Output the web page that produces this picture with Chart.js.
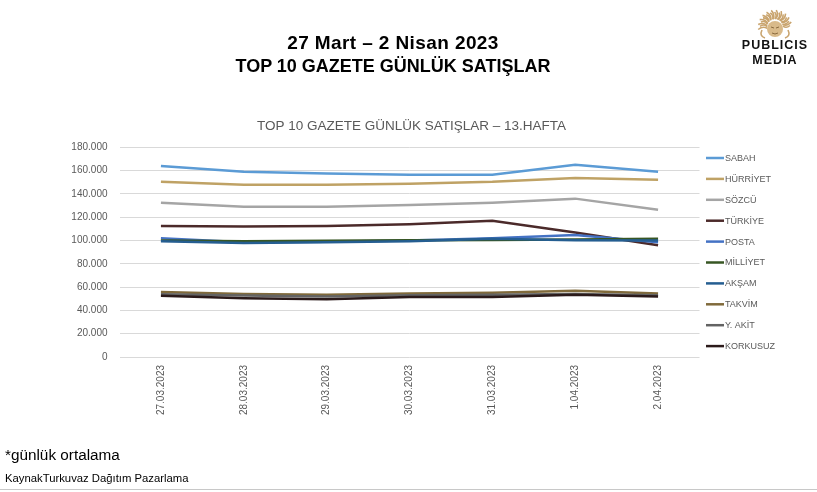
<!DOCTYPE html>
<html lang="tr">
<head>
<meta charset="UTF-8">
<title>TOP 10 GAZETE GÜNLÜK SATIŞLAR</title>
<script src="https://cdn.jsdelivr.net/npm/chart.js@4.4.0/dist/chart.umd.min.js"></script>
<style>
    html, body { margin: 0; padding: 0; background: #fff; }
    body { width: 817px; height: 492px; position: relative; overflow: hidden; font-family: "Liberation Sans", Arial, sans-serif; }
    #chart-wrap { position: absolute; left: 0; top: 0; width: 817px; height: 492px; }
    .headline { position: absolute; left: 0; width: 786px; text-align: center; font-weight: bold; font-size: 18px; color: #000; }
    .logo { position: absolute; left: 733px; top: 7px; width: 84px; text-align: center; }
    .logo svg { display: block; margin: 0 auto -3px auto; }
    .logo .word { font-weight: bold; font-size: 12.5px; letter-spacing: 1px; color: #111; line-height: 15px; }
    .note { position: absolute; left: 5px; top: 446px; font-size: 15.3px; color: #000; }
    .source { position: absolute; left: 5px; top: 472px; font-size: 11.3px; color: #000; }
    .bottom-line { position: absolute; left: 0; top: 489px; width: 817px; height: 1px; background: #c8c8c8; }
</style>
</head>
<body>
<div id="chart-wrap"><canvas id="daily-chart"></canvas></div>

<div class="headline" style="top:32px; font-size:19px; letter-spacing:0.4px;">27 Mart – 2 Nisan 2023</div>
<div class="headline" style="top:56px;">TOP 10 GAZETE GÜNLÜK SATIŞLAR</div>

<div class="logo">
    <svg width="40" height="34" viewBox="-20 -17 40 34" id="sun"></svg>
    <div class="word">PUBLICIS</div>
    <div class="word">MEDIA</div>
</div>

<div class="note">*günlük ortalama</div>
<div class="source">KaynakTurkuvaz Dağıtım Pazarlama</div>
<div class="bottom-line"></div>

<script>
// Tarihler (x ekseni)
const days = ['27.03.2023', '28.03.2023', '29.03.2023', '30.03.2023', '31.03.2023', '1.04.2023', '2.04.2023'];

// Gazeteler ve günlük satışlar
const papers = ['SABAH', 'HÜRRİYET', 'SÖZCÜ', 'TÜRKİYE', 'POSTA', 'MİLLİYET', 'AKŞAM', 'TAKVİM', 'Y. AKİT', 'KORKUSUZ'];
const sabah    = [164000, 159000, 157500, 156500, 156500, 165000, 159000];
const hurriyet = [150500, 148000, 148000, 148800, 150500, 153800, 152200];
const sozcu    = [132500, 129000, 129000, 130500, 132500, 136000, 126500];
const turkiye  = [112500, 112000, 112500, 114000, 117000, 107000, 96000];
const posta    = [102000, 98500, 99000, 100000, 102000, 104800, 98500];
const milliyet = [100000, 99500, 99800, 100200, 100500, 100800, 101500];
const aksam    = [99500, 98000, 98500, 99500, 101500, 100200, 100000];
const takvim   = [55800, 54000, 53500, 54500, 55200, 56800, 54500];
const yakit    = [53800, 52800, 52000, 53000, 53500, 54200, 53000];
const korkusuz = [52500, 50500, 49500, 51500, 51500, 53500, 52000];

// Y ekseni etiketleri
const yTicks = [0, 20000, 40000, 60000, 80000, 100000, 120000, 140000, 160000, 180000];

const colors = ['#5B9BD5', '#BFA265', '#A5A5A5', '#4B2A2A', '#4472C4', '#375623', '#255E91', '#806A3B', '#636363', '#2B1A1A'];

document.addEventListener('DOMContentLoaded', function() {
    drawLogo();
    setupChart();
});

function formatNumber(v) {
    return v.toString().replace(/\B(?=(\d{3})+(?!\d))/g, '.');
}

// Sağdaki lejant, Excel'deki gibi sabit yerde çizilir
const sideLegend = {
    id: 'sideLegend',
    afterDraw(chart) {
        const ctx = chart.ctx;
        ctx.save();
        ctx.font = '9px "Liberation Sans", Arial, sans-serif';
        ctx.textBaseline = 'middle';
        chart.data.datasets.forEach((ds, i) => {
            const y = 158 + i * 20.9;
            ctx.strokeStyle = ds.borderColor;
            ctx.lineWidth = 2.5;
            ctx.beginPath();
            ctx.moveTo(706, y);
            ctx.lineTo(724, y);
            ctx.stroke();
            ctx.fillStyle = '#595959';
            ctx.fillText(ds.label, 725, y + 0.5);
        });
        ctx.restore();
    }
};

function setupChart() {
    const series = [sabah, hurriyet, sozcu, turkiye, posta, milliyet, aksam, takvim, yakit, korkusuz];
    const ctx = document.getElementById('daily-chart').getContext('2d');

    new Chart(ctx, {
        type: 'line',
        data: {
            labels: days,
            datasets: series.map((values, i) => ({
                label: papers[i],
                data: values,
                borderColor: colors[i],
                backgroundColor: colors[i],
                borderWidth: 2.5,
                pointRadius: 0,
                tension: 0,
                order: papers.length - i // son seri en üstte
            }))
        },
        options: {
            responsive: true,
            maintainAspectRatio: false,
            animation: false,
            layout: {
                padding: { top: 110, left: 6, right: 0, bottom: 55 }
            },
            plugins: {
                legend: { display: false },
                tooltip: { enabled: false },
                title: {
                    display: true,
                    text: 'TOP 10 GAZETE GÜNLÜK SATIŞLAR – 13.HAFTA',
                    color: '#595959',
                    font: { family: '"Liberation Sans", Arial, sans-serif', size: 13.5, weight: 'normal' },
                    padding: { top: 8, bottom: 13.2 }
                }
            },
            scales: {
                x: {
                    offset: true,
                    grid: { display: false, drawTicks: false },
                    border: { display: false },
                    afterFit: function(axis) { axis.height = 80; },
                    ticks: {
                        color: '#595959',
                        font: { family: '"Liberation Sans", Arial, sans-serif', size: 10 },
                        minRotation: 90,
                        maxRotation: 90,
                        padding: 8
                    }
                },
                y: {
                    min: 0,
                    max: 180000,
                    afterFit: function(axis) { axis.width = 113.5; },
                    afterBuildTicks: function(axis) { axis.ticks = yTicks.map(v => ({ value: v })); },
                    grid: { color: '#D9D9D9', lineWidth: 1, drawTicks: false },
                    border: { display: false },
                    ticks: {
                        color: '#595959',
                        font: { family: '"Liberation Sans", Arial, sans-serif', size: 10 },
                        padding: 12,
                        callback: function(v) { return formatNumber(v); }
                    }
                },
                // lejant için sağda boş yer (görünmez eksen)
                legendSpace: {
                    type: 'linear',
                    position: 'right',
                    grid: { display: false, drawTicks: false },
                    border: { display: false },
                    ticks: { display: false },
                    afterFit: function(axis) { axis.width = 117.5; }
                }
            }
        },
        plugins: [sideLegend]
    });
}

// Logo için basit güneş figürü
function drawLogo() {
    const svg = document.getElementById('sun');
    let html = '';
    for (let i = 0; i < 22; i++) {
        const a = -Math.PI + (i / 21) * Math.PI * 1.0 - 0.15 + (i % 2) * 0.05;
        const r1 = 8, r2 = i % 2 ? 15 : 17;
        const x1 = Math.cos(a) * r1, y1 = Math.sin(a) * r1 + 3;
        const x2 = Math.cos(a) * r2, y2 = Math.sin(a) * r2 + 3;
        const cx = Math.cos(a + 0.25) * (r1 + r2) / 2, cy = Math.sin(a + 0.25) * (r1 + r2) / 2 + 3;
        html += '<path d="M' + x1.toFixed(1) + ' ' + y1.toFixed(1) + ' Q' + cx.toFixed(1) + ' ' + cy.toFixed(1) + ' ' + x2.toFixed(1) + ' ' + y2.toFixed(1) + '" stroke="#C9A46E" stroke-width="1.6" fill="none"/>';
    }
    html += '<path d="M-13 6 Q-16 12 -10 14 M13 6 Q16 12 10 14" stroke="#C9A46E" stroke-width="1.6" fill="none"/>';
    html += '<circle cx="0" cy="5" r="8" fill="#D9BA8A"/>';
    html += '<path d="M-4 3 L-1 4 M4 3 L1 4 M-3 9 Q0 11 3 9" stroke="#8A6A3E" stroke-width="1" fill="none"/>';
    svg.innerHTML = html;
}
</script>
</body>
</html>
